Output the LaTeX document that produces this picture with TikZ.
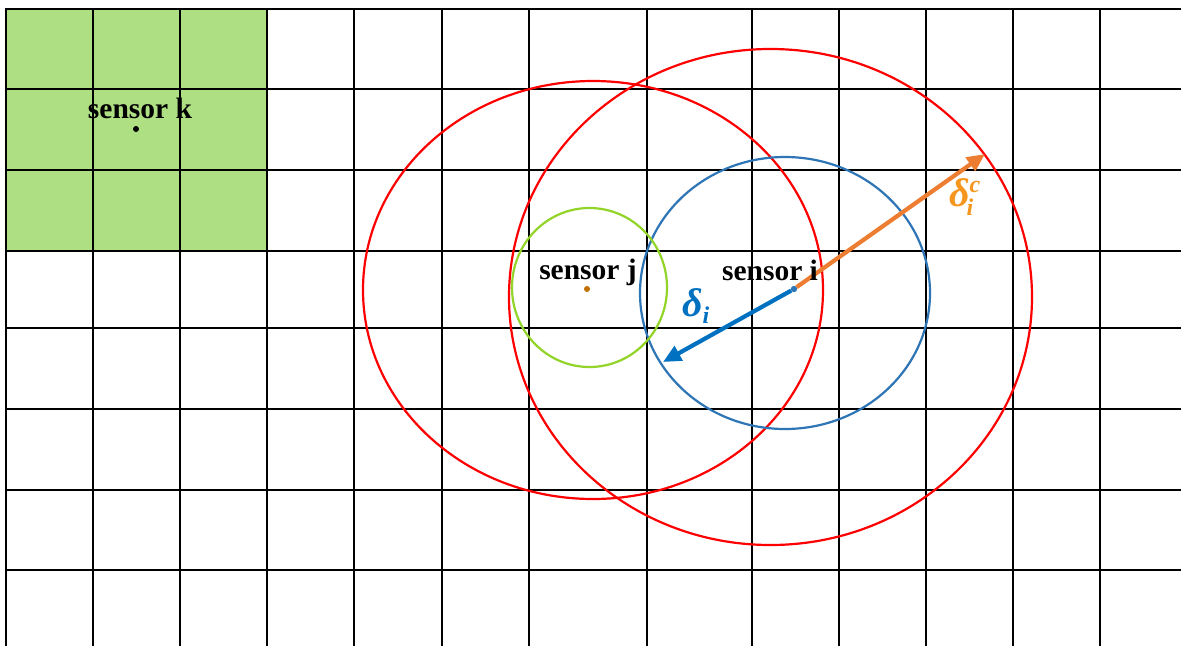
\documentclass[tikz,border=0pt]{standalone}
\usepackage{fontspec}
\setmainfont{Liberation Serif}
\usetikzlibrary{arrows.meta}
\definecolor{cellgreen}{RGB}{174,223,130}
\definecolor{ringred}{RGB}{255,0,0}
\definecolor{ringblue}{RGB}{46,117,182}
\definecolor{ringgreen}{RGB}{146,212,40}
\definecolor{arrowblue}{RGB}{0,112,192}
\definecolor{arroworange}{RGB}{237,125,49}
\definecolor{labelorange}{RGB}{245,150,30}
\definecolor{dotbrown}{RGB}{192,112,0}
\newcommand{\subsz}{\fontsize{24}{24}\selectfont}
\begin{document}
\begin{tikzpicture}[x=1pt,y=-1pt,
  gridline/.style={black,line width=2pt},
  ring/.style={line width=2.2pt},
  sdot/.style={circle,inner sep=0pt,minimum size=6pt},
  slabel/.style={font=\fontsize{29.5}{31}\selectfont\bfseries,inner sep=0pt},
  dlabel/.style={font=\fontsize{40}{42}\selectfont\bfseries\itshape,inner sep=0pt},
  arr/.style={line width=4.2pt,-{Triangle[length=18pt,width=16pt]}}]
\useasboundingbox (0,0) rectangle (1181,646);
\fill[white] (0,0) rectangle (1181,646);
% green cells
\fill[cellgreen] (6,8.5) rectangle (267,250.5);
% grid
\foreach \x in {6,93,180,267,354,441.5,529,646.5,751.5,839,926,1013,1100}
  \draw[gridline] (\x,8.5) -- (\x,646);
\foreach \y in {8.5,89,170,250.5,328,409,490,570}
  \draw[gridline] (5,\y) -- (1181,\y);
% rings
\draw[ring,ringred] (593,290) ellipse [x radius=230, y radius=209];
\draw[ring,ringred] (770.5,297) ellipse [x radius=261.5, y radius=248];
\draw[ring,ringblue] (785,293) ellipse [x radius=145, y radius=136];
\draw[ring,ringgreen] (589.5,287.5) ellipse [x radius=77.5, y radius=79.5];
% sensors
\node[sdot,fill=black] (sk) at (136,129) {};
\node[sdot,fill=dotbrown] (sj) at (587,289) {};
\node[sdot,fill=ringblue] (si) at (794,289) {};
\coordinate (tipb) at (663,362);
\coordinate (tipo) at (985,154);
\draw[arr,arroworange] (si) -- (tipo);
\draw[arr,arrowblue] (si) -- (tipb);
\node[sdot,fill=ringblue] at (si) {};
% labels
\node[slabel,anchor=base] (lk) at (140,118) {sensor k};
\node[slabel,anchor=base] (lj) at (588,279) {sensor j};
\node[slabel,anchor=base] (li) at (770,280) {sensor i};
\node[dlabel,text=arrowblue,anchor=base west] (ld) at (682,316) {δ\raisebox{-7pt}{\subsz i}};
\node[dlabel,text=labelorange,anchor=base west] (lc) at (949,206) {δ\rlap{\raisebox{14pt}{\subsz c}}\hspace{-3pt}\raisebox{-9pt}{\subsz i}};
\end{tikzpicture}
\end{document}
